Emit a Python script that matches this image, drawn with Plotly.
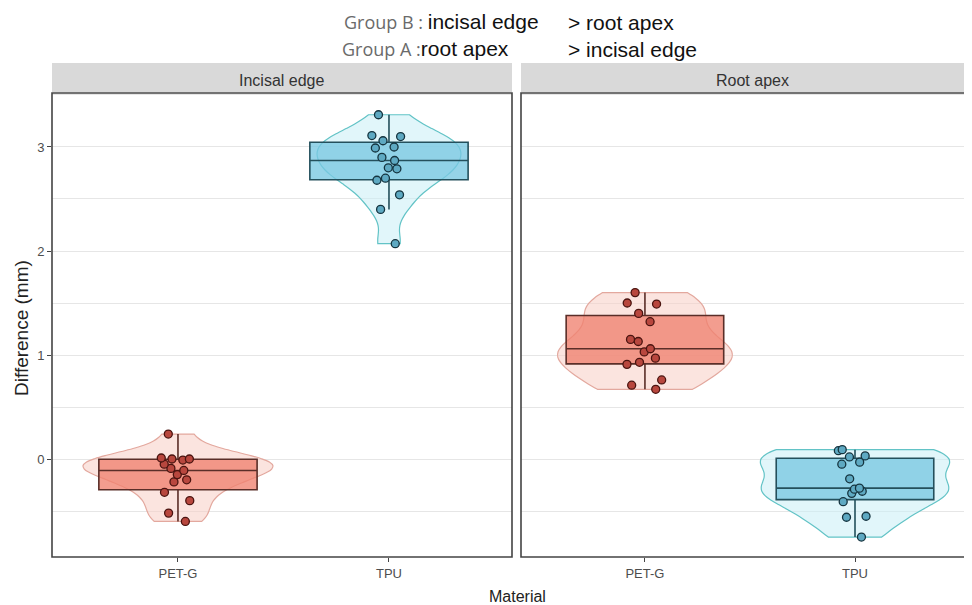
import numpy as np
import plotly.graph_objects as go

# ---------------- data ----------------
materials = ["PET-G", "TPU"]
facets = ["Incisal edge", "Root apex"]

incisal_petg = [0.24, 0.01, 0.00, 0.00, -0.01, -0.05, -0.09, -0.11, -0.15, -0.20, -0.22, -0.32, -0.40, -0.52, -0.60]
incisal_tpu = [3.31, 3.11, 3.10, 3.06, 3.00, 2.99, 2.90, 2.87, 2.80, 2.79, 2.70, 2.68, 2.54, 2.40, 2.07]
root_petg = [1.60, 1.50, 1.49, 1.40, 1.32, 1.15, 1.13, 1.06, 1.03, 0.97, 0.93, 0.91, 0.76, 0.71, 0.67]
root_tpu = [0.09, 0.08, 0.03, 0.02, -0.03, -0.05, -0.19, -0.28, -0.29, -0.31, -0.33, -0.41, -0.55, -0.56, -0.75]

y_ticks = [0, 1, 2, 3]
y_title = "Difference (mm)"
x_title = "Material"

# ---------------- layout geometry (screen pixels; page body adds 8px offset) ----------------
OFF = 8
W, H = 972, 605
L_SCR, T_SCR, B_SCR, R_SCR = 52, 63, 557, 972   # plotting area in screen pixels
ML, MT = L_SCR - OFF, T_SCR - OFF
MB = H - (B_SCR - OFF)
MR = W - (R_SCR - OFF)
PW, PH = W - ML - MR, H - MT - MB

def px_x(p):
    return (p - L_SCR) / PW

def px_y(p):
    return (B_SCR - p) / PH

style = {
    "PET-G": dict(vfill="rgba(248,205,197,0.55)", vline="#E3A89E", bfill="rgba(240,130,112,0.78)",
                  bline="#5a2e28", mfill="#B8473E", mline="#4a1410"),
    "TPU": dict(vfill="rgba(200,238,246,0.55)", vline="#62C3C6", bfill="rgba(120,200,225,0.78)",
                bline="#24505c", mfill="#5EA9C2", mline="#15343f"),
}

violin_w = {("Incisal edge", "PET-G"): 0.9, ("Incisal edge", "TPU"): 0.68,
            ("Root apex", "PET-G"): 0.83, ("Root apex", "TPU"): 0.9}

data = {("Incisal edge", "PET-G"): incisal_petg, ("Incisal edge", "TPU"): incisal_tpu,
        ("Root apex", "PET-G"): root_petg, ("Root apex", "TPU"): root_tpu}

def nrd0(v):
    v = np.asarray(v)
    sd = v.std(ddof=1)
    iqr = np.subtract(*np.percentile(v, [75, 25]))
    return 0.9 * min(sd, iqr / 1.34) * len(v) ** -0.2

fig = go.Figure()

for fi, facet in enumerate(facets):
    xa = "x" if fi == 0 else "x2"
    ya = "y" if fi == 0 else "y2"
    for m in materials:
        vals = data[(facet, m)]
        s = style[m]
        fig.add_trace(go.Violin(
            x=[m] * len(vals), y=vals, xaxis=xa, yaxis=ya,
            spanmode="hard", points=False, box_visible=False, meanline_visible=False,
            fillcolor=s["vfill"], line=dict(color=s["vline"], width=1.2),
            width=violin_w[(facet, m)], bandwidth=nrd0(vals), scalemode="width",
            showlegend=False, hoverinfo="skip",
        ))
    for m in materials:
        vals = data[(facet, m)]
        s = style[m]
        fig.add_trace(go.Box(
            x=[m] * len(vals), y=vals, xaxis=xa, yaxis=ya,
            boxpoints="all", jitter=0.28, pointpos=0, width=0.75,
            fillcolor=s["bfill"], line=dict(color=s["bline"], width=1.6),
            whiskerwidth=0,
            marker=dict(color=s["mfill"], size=8, line=dict(color=s["mline"], width=1.3)),
            showlegend=False,
        ))

grid = dict(showgrid=True, gridcolor="#E6E6E6", gridwidth=1,
            minor=dict(dtick=0.5, showgrid=True, gridcolor="#E6E6E6", gridwidth=1, ticks=""))
yr = [-0.942, 3.519]
ydom = [0, px_y(93)]
tickfont = dict(size=13, color="#4D4D4D", family="Liberation Sans Narrow, Liberation Sans, Arial")
fig.update_layout(
    width=W, height=H, margin=dict(l=ML, r=MR, t=MT, b=MB, autoexpand=False),
    paper_bgcolor="white", plot_bgcolor="white",
    violinmode="overlay", boxmode="overlay", showlegend=False,
    font=dict(family="Liberation Sans Narrow, Liberation Sans, Arial", color="#4D4D4D"),
    xaxis=dict(domain=[0, px_x(512)], range=[-0.597, 1.583], type="category",
               categoryorder="array", categoryarray=materials, automargin=False,
               showgrid=False, zeroline=False, ticks="outside", ticklen=4, tickcolor="#444",
               tickfont=tickfont),
    xaxis2=dict(domain=[px_x(521), 1], range=[-0.59, 1.557], type="category",
                categoryorder="array", categoryarray=materials, automargin=False,
                showgrid=False, zeroline=False, ticks="outside", ticklen=4, tickcolor="#444",
                tickfont=tickfont),
    yaxis=dict(domain=ydom, range=yr, tickvals=y_ticks, zeroline=False, ticks="outside",
               automargin=False, ticklen=4, tickcolor="#444", tickfont=tickfont, **grid),
    yaxis2=dict(domain=ydom, range=yr, anchor="x2", matches="y", showticklabels=False,
                automargin=False, tickvals=y_ticks, zeroline=False, ticks="", **grid),
)

shapes = []
# panel borders
shapes.append(dict(type="rect", xref="x domain", yref="y domain", x0=0, x1=1, y0=0, y1=1,
                   line=dict(color="#444", width=1.6), layer="above"))
shapes.append(dict(type="path", xref="x2 domain", yref="y2 domain",
                   path="M 1.05,0 L 0,0 L 0,1 L 1.05,1", line=dict(color="#444", width=1.6), layer="above"))
# strips
shapes.append(dict(type="rect", xref="x domain", yref="paper", x0=0, x1=1, y0=px_y(92), y1=1,
                   fillcolor="#D9D9D9", line=dict(width=0), layer="below"))
shapes.append(dict(type="rect", xref="x2 domain", yref="paper", x0=0, x1=1.05, y0=px_y(92), y1=1,
                   fillcolor="#D9D9D9", line=dict(width=0), layer="below"))
fig.update_layout(shapes=shapes)

ann = []
def add_ann(text, x, y, font, xanchor="center", **kw):
    ann.append(dict(text=text, xref="paper", yref="paper", x=px_x(x), y=px_y(y),
                    xanchor=xanchor, yanchor="middle", showarrow=False, font=font, **kw))

add_ann(facets[0], 281, 80, dict(size=16, color="#333"))
add_ann(facets[1], 752, 80, dict(size=16, color="#333"))
add_ann(y_title, 21, 328, dict(size=19, color="#222", family="Liberation Sans, Arial"), textangle=-90)
add_ann(x_title, 517, 596, dict(size=16, color="#222"))

gray = "font-family:'Open Sans';font-size:18px;color:#6a6a6a"
blk = "color:#111"
head = [
    (342, 22, f"<span style=\"{gray}\">Group B : </span><span style=\"{blk}\">incisal edge</span>"),
    (566, 22, f"<span style=\"{blk}\">&gt; root apex</span>"),
    (340, 49, f"<span style=\"{gray}\">Group A :</span><span style=\"{blk}\">root apex</span>"),
    (566, 49, f"<span style=\"{blk}\">&gt; incisal edge</span>"),
]
for x, y, t in head:
    add_ann(t, x, y, dict(size=21, family="Liberation Sans, Arial", color="#111"), xanchor="left")
fig.update_layout(annotations=ann)

fig.write_html("out.html")
